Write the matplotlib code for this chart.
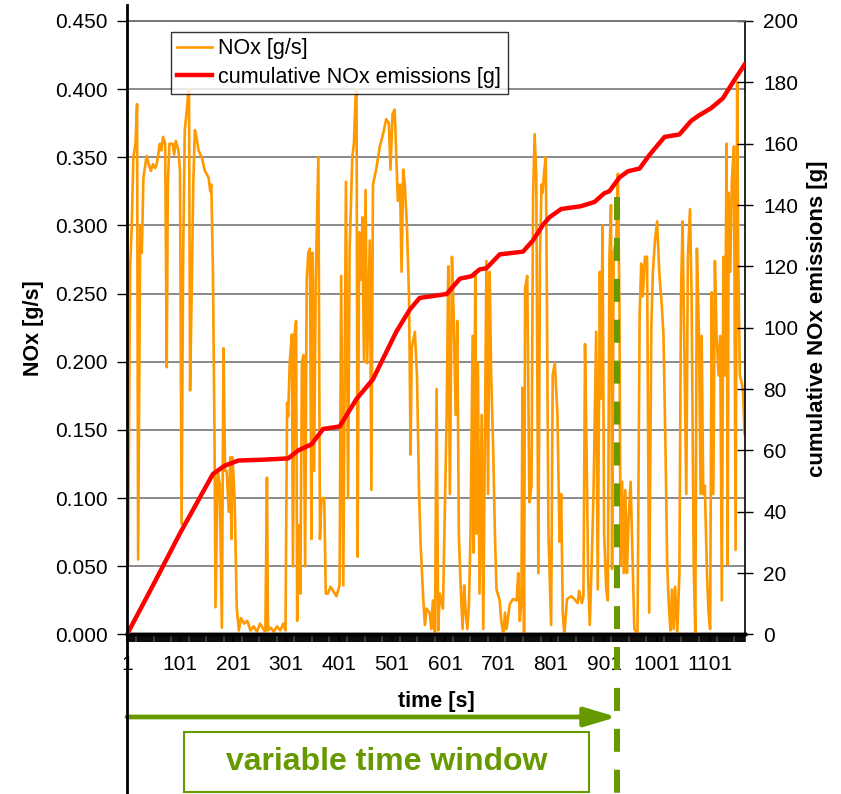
import matplotlib
matplotlib.use('Agg')
import matplotlib.pyplot as plt
from matplotlib.ticker import MultipleLocator, FormatStrFormatter
from matplotlib.transforms import blended_transform_factory
from matplotlib.patches import Rectangle

plt.rcParams['font.family'] = ['Liberation Sans', 'DejaVu Sans']

# NOx mass flow [g/s]
nox_time = [
    1, 3, 7, 10, 13, 17, 20, 22, 26, 29, 32, 38, 42, 46, 50, 54, 57, 60, 63, 66,
    69, 73, 76, 78, 81, 87, 90, 93, 98, 101, 104, 107, 110, 114, 116, 118, 120, 123, 126, 129,
    132, 136, 142, 148, 155, 158, 160, 163, 166, 168, 172, 176, 180, 183, 186, 189, 193, 196, 198, 200,
    204, 208, 212, 216, 222, 228, 234, 240, 246, 252, 258, 262, 265, 267, 272, 278, 284, 290, 296, 300,
    303, 305, 308, 312, 314, 317, 320, 322, 325, 328, 331, 334, 337, 340, 343, 346, 349, 351, 354, 357,
    362, 365, 368, 373, 376, 380, 385, 390,
    396, 402, 405, 409, 414, 418, 421, 426, 429, 432, 434, 436, 439, 443, 445, 448, 451, 454, 459, 462,
    465, 471, 478, 484, 490, 495, 498, 502, 506, 509, 512, 516, 519, 522, 525, 529, 533, 536, 538, 544,
    548, 552, 555, 560, 563, 566, 572, 575, 578, 582, 585, 588, 591, 597, 604, 607, 610, 614, 617, 621,
    624, 627, 630, 634, 637, 640, 643, 646, 649, 653, 655, 658, 660, 663, 666, 670, 673, 679, 682, 685,
    688, 692, 695, 698, 704, 707, 711, 714, 717, 723, 729, 736, 739, 742, 745, 747, 750, 752, 756, 760,
    764, 767, 770, 773, 777, 780,
    783, 785, 788, 791, 793, 796, 801, 804, 808, 813, 817, 820, 823, 826, 831, 839, 845, 851, 854, 859,
    862, 865, 868, 871, 874, 878, 881, 886, 889, 893, 895, 898, 901, 905, 908, 911, 914, 916, 919, 924,
    927, 930, 932, 935, 938, 941, 944, 947, 951, 954, 958, 964, 968, 971, 974, 978, 982, 986, 990, 993,
    997, 1001, 1005, 1010, 1013, 1017, 1020, 1023, 1026, 1029, 1032, 1035, 1039, 1043, 1046, 1049, 1052, 1056, 1059, 1063,
    1066, 1070, 1073, 1076, 1080, 1083, 1085, 1088, 1091, 1095, 1098, 1101, 1104, 1107, 1110, 1113, 1117, 1120, 1123, 1126,
    1129, 1132, 1134, 1136, 1139, 1142, 1146, 1149, 1152, 1154, 1157, 1161, 1163, 1166,
]
nox_values = [
    0.365, 0.05, 0.27, 0.30, 0.35, 0.36, 0.389, 0.055, 0.30, 0.28, 0.335, 0.351, 0.345, 0.34, 0.345, 0.342, 0.345, 0.352, 0.36, 0.355,
    0.365, 0.36, 0.196, 0.33, 0.36, 0.36, 0.352, 0.362, 0.355, 0.34, 0.081, 0.28, 0.37, 0.385, 0.395, 0.40, 0.179, 0.25, 0.33, 0.37,
    0.365, 0.355, 0.35, 0.34, 0.335, 0.325, 0.33, 0.27, 0.15, 0.02, 0.12, 0.11, 0.005, 0.21, 0.12, 0.12, 0.09, 0.13, 0.07, 0.13,
    0.10, 0.02, 0.003, 0.012, 0.008, 0.010, 0.003, 0.006, 0.002, 0.008, 0.004, 0.002, 0.115, 0.003, 0.005, 0.002, 0.006, 0.003, 0.008, 0.003,
    0.17, 0.16, 0.20, 0.22, 0.05, 0.22, 0.23, 0.01, 0.08, 0.03, 0.20, 0.205, 0.05, 0.26, 0.28, 0.283, 0.07, 0.28, 0.12, 0.26,
    0.35, 0.07, 0.10, 0.10, 0.03, 0.03, 0.035, 0.032,
    0.028, 0.036, 0.263, 0.036, 0.332, 0.10, 0.283, 0.35, 0.36, 0.393, 0.40, 0.057, 0.295, 0.26, 0.306, 0.20, 0.326, 0.199, 0.289, 0.106,
    0.33, 0.341, 0.358, 0.367, 0.378, 0.375, 0.341, 0.382, 0.385, 0.35, 0.318, 0.33, 0.266, 0.341, 0.33, 0.30, 0.248, 0.132, 0.21, 0.222,
    0.19, 0.103, 0.065, 0.025, 0.007, 0.019, 0.016, 0.004, 0.025, 0.0, 0.18, 0.003, 0.03, 0.019, 0.161, 0.27, 0.103, 0.277, 0.237, 0.161,
    0.23, 0.074, 0.039, 0.004, 0.036, 0.016, 0.004, 0.022, 0.074, 0.219, 0.06, 0.266, 0.074, 0.199, 0.03, 0.161, 0.004, 0.274, 0.103, 0.266,
    0.19, 0.132, 0.074, 0.033, 0.025, 0.01, 0.0, 0.016, 0.004, 0.022, 0.026, 0.025, 0.045, 0.01, 0.025, 0.181, 0.0, 0.254, 0.263, 0.097,
    0.109, 0.321, 0.367, 0.336, 0.045, 0.277,
    0.33, 0.324, 0.34, 0.35, 0.25, 0.074, 0.007, 0.19, 0.199, 0.161, 0.068, 0.103, 0.016, 0.0, 0.026, 0.028, 0.026, 0.023, 0.032, 0.023,
    0.028, 0.213, 0.132, 0.039, 0.007, 0.059, 0.103, 0.222, 0.033, 0.266, 0.173, 0.30, 0.074, 0.033, 0.025, 0.277, 0.315, 0.048, 0.28, 0.29,
    0.338, 0.237, 0.051, 0.112, 0.045, 0.106, 0.045, 0.083, 0.112, 0.065, 0.004, 0.001, 0.234, 0.272, 0.248, 0.277, 0.277, 0.016, 0.225, 0.266,
    0.289, 0.303, 0.266, 0.24, 0.219, 0.132, 0.051, 0.022, 0.003, 0.033, 0.004, 0.035, 0.001, 0.045, 0.248, 0.303, 0.219, 0.103, 0.277, 0.312,
    0.248, 0.051, 0.001, 0.283, 0.219, 0.103, 0.219, 0.103, 0.109, 0.045, 0.016, 0.004, 0.251, 0.103, 0.274, 0.219, 0.19, 0.219, 0.025, 0.277,
    0.19, 0.36, 0.051, 0.324, 0.266, 0.333, 0.358, 0.062, 0.405, 0.277, 0.19, 0.184, 0.178, 0.147,
]

# cumulative NOx emissions [g]
cum_time = [1, 50, 101, 130, 163, 185, 211, 260, 305, 324, 349, 371, 402, 434, 465, 509, 534, 553,
            604, 629, 651, 666, 679, 704, 748, 767, 786, 798, 820, 857, 883, 901, 911, 930, 946,
            968, 986, 1015, 1043, 1065, 1078, 1103, 1125, 1144, 1166]
cum_values = [0, 16, 33, 42, 52.3, 55, 56.7, 57, 57.4, 60, 62, 67, 67.8, 76.8, 83.2, 98.7, 105.8, 109.7,
              111, 116, 116.8, 119, 119.4, 123.9, 124.8, 128.5, 133.6, 136, 138.7, 139.6, 141, 143.8, 144.5, 149, 151,
              151.9, 156.2, 162.2, 163, 167.4, 169, 171.6, 174.8, 180, 185.8]

x_ticks = [1, 101, 201, 301, 401, 501, 601, 701, 801, 901, 1001, 1101]
window_start = 1
window_end = 925
t_max = 1167

orange = '#ff9900'
green = '#669900'

fig = plt.figure(figsize=(8.41, 7.94), dpi=100)
ax = fig.add_axes([0.151, 0.2009, 0.735, 0.7727])
ax2 = ax.twinx()

ax.set_xlim(window_start, t_max)
ax.set_ylim(0, 0.45)
ax2.set_ylim(0, 200)

ax.plot(nox_time, nox_values, color=orange, lw=1.9, label='NOx [g/s]', zorder=3)
ax2.plot(cum_time, cum_values, color='#ff0000', lw=3.2, label='cumulative NOx emissions [g]', zorder=3)

# grid & axes styling
ax.set_yticks([i * 0.05 for i in range(10)])
ax.yaxis.set_major_formatter(FormatStrFormatter('%.3f'))
ax.grid(axis='y', color='#777777', lw=1.2)
ax.set_axisbelow(True)
ax.set_xticks(x_ticks)
ax.xaxis.set_minor_locator(MultipleLocator(2, offset=1))
ax.tick_params(axis='x', which='major', direction='out', length=6, width=1.4, labelsize=15, pad=9)
ax.tick_params(axis='x', which='minor', direction='out', length=6, width=1.1)
ax.tick_params(axis='y', direction='out', length=7, width=1.0, labelsize=15, pad=7)
ax2.set_yticks(range(0, 201, 20))
ax2.tick_params(axis='y', direction='inout', length=12, width=1.0, labelsize=15, pad=7)

for a in (ax, ax2):
    a.spines['top'].set_color('#777777')
    a.spines['top'].set_linewidth(1.2)
    a.spines['left'].set_visible(False)
    a.spines['bottom'].set_linewidth(2.5)
ax2.spines['right'].set_linewidth(1.2)
ax.spines['right'].set_visible(False)

ax.set_xlabel('time [s]', fontsize=15.5, fontweight='bold')
ax.xaxis.set_label_coords(0.5, -0.092)
ax.set_ylabel('NOx [g/s]', fontsize=15.5, fontweight='bold')
ax.yaxis.set_label_coords(-0.134, 0.5)
ax2.set_ylabel('cumulative NOx emissions [g]', fontsize=16, fontweight='bold', rotation=90, va='top')
ax2.yaxis.set_label_coords(1.1, 0.514)

h1, l1 = ax.get_legend_handles_labels()
h2, l2 = ax2.get_legend_handles_labels()
leg = ax2.legend(h1 + h2, l1 + l2, loc='upper left', bbox_to_anchor=(0.0712, 0.982),
                 borderaxespad=0, fontsize=15.5, frameon=True, fancybox=False,
                 handlelength=1.6, handletextpad=0.3, borderpad=0.3, labelspacing=0.35)
leg.get_frame().set_edgecolor('black')
leg.get_frame().set_linewidth(1.0)

# time window annotation
tr = blended_transform_factory(ax.transData, fig.transFigure)
ax2.plot([window_start, window_start], [0.0, 0.994], color='black', lw=2.0,
         transform=tr, clip_on=False, zorder=5)
ax2.plot([window_end, window_end], [0.752, 0.0], color=green, lw=4.3,
         linestyle=(0, (3.85, 3.0)), transform=tr, clip_on=False, zorder=5)
ax2.annotate('', xy=(window_end, 0.097), xytext=(window_start, 0.097),
             xycoords=tr, textcoords=tr,
             arrowprops=dict(arrowstyle='-|>,head_length=0.97,head_width=0.29',
                             mutation_scale=20, color=green, lw=3.4,
                             shrinkA=0, shrinkB=0))
fig.patches.append(Rectangle((0.2188, 0.0025), 0.4816, 0.0755, transform=fig.transFigure,
                             fill=False, edgecolor=green, lw=1.5))
fig.text(0.4596, 0.040, 'variable time window', color=green, fontsize=23,
         fontweight='bold', ha='center', va='center')

fig.savefig('out.png', dpi=100)
